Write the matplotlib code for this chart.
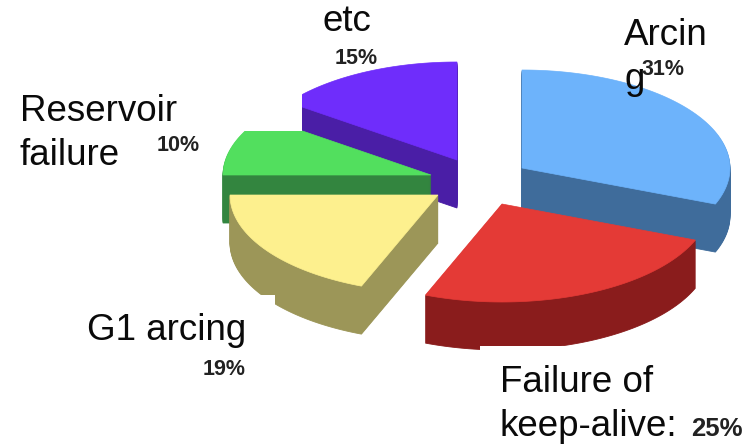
import numpy as np
import matplotlib
matplotlib.use("Agg")
import matplotlib.pyplot as plt
from matplotlib.patches import Polygon, Rectangle

categories = ["Arcing", "Failure of keep-alive", "G1 arcing", "Reservoir failure", "etc"]
shares = [31, 25, 19, 10, 15]

top_colors = ["#6db3fb", "#e43a36", "#fdf08e", "#52df5e", "#6f2dfb"]
side_colors = ["#3f6c9b", "#8a1c1c", "#9c9658", "#33853f", "#4a1ea6"]
apex_x = [522, 502, 438, 431, 457]
apex_y = [168, 204, 195, 175, 160]
draw_order = [4, 3, 2, 0, 1]

RX, RY, DEPTH = 208, 98, 48

plt.rcParams["font.family"] = ["Liberation Sans", "DejaVu Sans"]
fig = plt.figure(figsize=(7.51, 4.46), dpi=100)
ax = fig.add_axes([0, 0, 1, 1])
ax.set_xlim(0, 751)
ax.set_ylim(446, 0)
ax.axis("off")

edges = np.cumsum([0] + shares) / sum(shares) * 2 * np.pi

z = 2
for i in draw_order:
    t = np.linspace(edges[i], edges[i + 1], 80)
    px = np.r_[apex_x[i], apex_x[i] + RX * np.sin(t)]
    py = np.r_[apex_y[i], apex_y[i] - RY * np.cos(t)]
    # extruded body: the top outline stacked downward, one pixel per layer
    for d in range(DEPTH, 0, -1):
        ax.add_patch(Polygon(np.c_[px, py + d], closed=True, fc=side_colors[i],
                             ec=side_colors[i], lw=0.6, zorder=z))
    ax.add_patch(Polygon(np.c_[px, py], closed=True, fc=top_colors[i],
                         ec=top_colors[i], lw=0.5, zorder=z + 0.5))
    z += 1

# white text-box cut-outs that crop the picture
for (x0, y0, w, h) in [(0, 0, 302, 131), (0, 295, 275, 151), (480, 346, 271, 100)]:
    ax.add_patch(Rectangle((x0, y0), w, h, fc="white", ec="none", zorder=10))

big = 26.5
pct = 15.5
for s, x, y in [("Arcin", 624, 45), ("g", 624, 89), ("etc", 322, 31),
                ("Reservoir", 20, 121), ("failure", 20, 165),
                ("G1 arcing", 87, 340), ("Failure of", 500, 392),
                ("keep-alive:", 500, 436)]:
    ax.text(x, y, s, fontsize=big, color="#0a0a0a", va="baseline", ha="left", zorder=11)
for s, x, y, fs in [("31%", 642, 75, pct), ("15%", 335, 64, pct), ("10%", 157, 151, pct),
                    ("19%", 203, 375, pct), ("25%", 691, 436, 18.5)]:
    ax.text(x, y, s, fontsize=fs, fontweight="bold", color="#222222", va="baseline", ha="left", zorder=12)

fig.savefig("out.png", dpi=100)
